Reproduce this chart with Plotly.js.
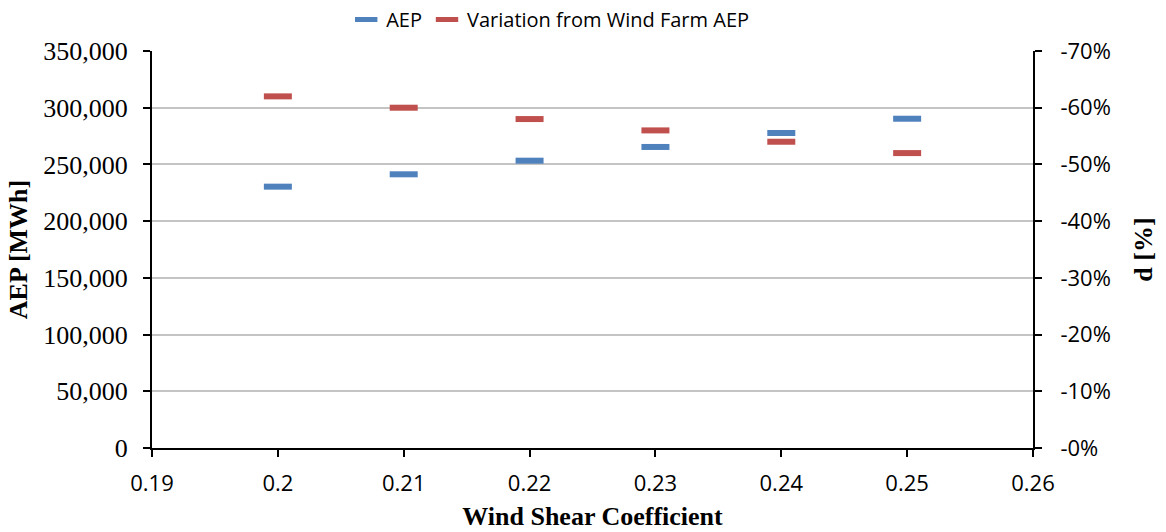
<!DOCTYPE html>
<html>
<head>
<meta charset="utf-8">
<script src="https://cdn.plot.ly/plotly-3.0.1.min.js"></script>
<style>html,body{margin:0;padding:0;background:#fff;}#chart{width:1166px;height:532px;}</style>
</head>
<body>
<div id="chart"></div>
<script>
const shear = [0.20, 0.21, 0.22, 0.23, 0.24, 0.25];
const aep = [230400, 241300, 253300, 265400, 277700, 290300];
const variation = [-0.62, -0.60, -0.58, -0.56, -0.54, -0.52];
const xTickVals = [0.19, 0.20, 0.21, 0.22, 0.23, 0.24, 0.25, 0.26];
const xTickText = ['0.19', '0.2', '0.21', '0.22', '0.23', '0.24', '0.25', '0.26'];
const y2TickVals = [0, -0.1, -0.2, -0.3, -0.4, -0.5, -0.6, -0.7];
const y2TickText = ['-0%', '-10%', '-20%', '-30%', '-40%', '-50%', '-60%', '-70%'];

const sansFont = {family: '"Open Sans", sans-serif', size: 22, color: '#000'};
const legendFont = {family: '"Open Sans", sans-serif', size: 20, color: '#000'};
const serifFont = {family: '"Liberation Serif", "Times New Roman", serif', size: 26, color: '#000'};
const titleFont = {family: '"Liberation Serif", "Times New Roman", serif', size: 26, color: '#000', weight: 'bold'};

const traces = [
  {
    x: shear, y: aep, name: 'AEP', type: 'scatter', mode: 'markers',
    marker: {symbol: 'line-ew', size: 20, color: '#4F81BD', line: {color: '#4F81BD', width: 6}},
    yaxis: 'y'
  },
  {
    x: shear, y: variation, name: 'Variation from Wind Farm AEP', type: 'scatter', mode: 'markers',
    marker: {symbol: 'line-ew', size: 20, color: '#C0504D', line: {color: '#C0504D', width: 6}},
    yaxis: 'y2'
  }
];

const layout = {
  width: 1166, height: 532,
  margin: {l: 152, r: 133, t: 51, b: 84},
  paper_bgcolor: '#fff', plot_bgcolor: '#fff',
  showlegend: true,
  legend: {orientation: 'h', x: 0.452, xanchor: 'center', y: 1.0, yref: 'container', yanchor: 'top',
           font: legendFont, itemwidth: 30, tracegroupgap: 0, bgcolor: 'rgba(0,0,0,0)'},
  xaxis: {
    range: [0.19, 0.26], tickvals: xTickVals, ticktext: xTickText,
    showgrid: false, zeroline: false, showline: true, linecolor: '#000', linewidth: 2,
    ticks: 'outside', ticklen: 7, tickwidth: 2, tickcolor: '#000',
    tickfont: sansFont, ticklabelstandoff: 8,
    title: {text: 'Wind Shear Coefficient', font: titleFont, standoff: 10}
  },
  yaxis: {
    range: [0, 350000], dtick: 50000, tickformat: ',d',
    showgrid: true, gridcolor: '#C4C4C4', gridwidth: 2, zeroline: false,
    showline: true, linecolor: '#000', linewidth: 2,
    ticks: 'outside', ticklen: 7, tickwidth: 2, tickcolor: '#000',
    tickfont: serifFont, ticklabelstandoff: 10,
    title: {text: 'AEP [MWh]', font: titleFont, standoff: 8}
  },
  yaxis2: {
    overlaying: 'y', side: 'right', range: [0, -0.7],
    tickvals: y2TickVals, ticktext: y2TickText,
    showgrid: false, zeroline: false, showline: true, linecolor: '#000', linewidth: 2,
    ticks: 'outside', ticklen: 7, tickwidth: 2, tickcolor: '#000',
    tickfont: sansFont, ticklabelstandoff: 14,
    title: {text: 'd [%]', font: titleFont, standoff: 24}
  }
};

Plotly.newPlot('chart', traces, layout, {displayModeBar: false, staticPlot: true});
</script>
</body>
</html>
